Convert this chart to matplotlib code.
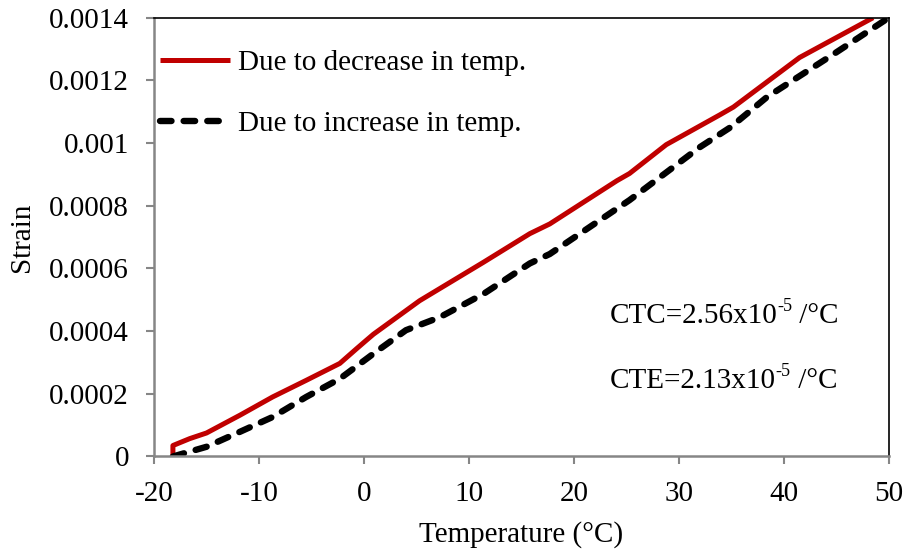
import numpy as np
import matplotlib
matplotlib.use("Agg")
import matplotlib.pyplot as plt

plt.rcParams['font.family'] = ['Liberation Serif', 'DejaVu Serif']
plt.rcParams['axes.unicode_minus'] = False

# red curve: strain due to decrease in temperature
temp_dec = [-18.2, -18.2, -16.6, -15.0, -11.8, -8.7, -5.5, -2.3, -0.7, 0.2, 0.9,
            5.3, 11.4, 15.8, 17.7, 24.1, 25.3, 28.8, 33.9, 35.2, 41.5, 48.5]
strain_dec = [0.0, 0.000035, 0.000057, 0.000075, 0.000132, 0.00019, 0.000243,
              0.000297, 0.000344, 0.00037, 0.00039, 0.000497, 0.00062, 0.000711,
              0.000742, 0.00088, 0.000903, 0.000995, 0.00109, 0.001115,
              0.001273, 0.0014]

# black dashed curve: strain due to increase in temperature
temp_inc = [-18.2, -15.0, -11.8, -8.7, -5.5, -2.3, 0.9, 4.0, 7.2, 11.4, 15.8,
            17.7, 25.3, 32.0, 34.9, 38.4, 44.7, 50.0]
strain_inc = [0.0, 0.000031, 0.000079, 0.000126, 0.00019, 0.000248, 0.000328,
              0.000403, 0.000444, 0.000519, 0.000616, 0.000646, 0.000818,
              0.000987, 0.00105, 0.001147, 0.001283, 0.0014]

x_ticks = [-20, -10, 0, 10, 20, 30, 40, 50]
y_ticks = [0, 0.0002, 0.0004, 0.0006, 0.0008, 0.001, 0.0012, 0.0014]
y_tick_labels = ['0', '0.0002', '0.0004', '0.0006', '0.0008', '0.001', '0.0012', '0.0014']

fs = 21
fig = plt.figure(figsize=(9.06, 5.54), dpi=100)
ax = fig.add_axes([0.170, 0.176, 0.811, 0.792])

ax.plot(temp_dec, strain_dec, color='#C00000', linewidth=3.6,
        solid_capstyle='butt', solid_joinstyle='round',
        label='Due to decrease in temp.')
ax.plot(temp_inc, strain_inc, color='black', linewidth=4.6, linestyle=(0, (1.8, 1.9)),
        dash_capstyle='round', label='Due to increase in temp.')

ax.set_xlim(-20, 50)
ax.set_ylim(0, 0.0014)
ax.set_xticks(x_ticks)
ax.set_xticklabels([str(t) for t in x_ticks])
ax.set_yticks(y_ticks)
ax.set_yticklabels(y_tick_labels)
ax.tick_params(axis='both', labelsize=fs, direction='out', length=6, width=1.5,
               color='#868686', pad=12)

for side in ['left', 'bottom']:
    ax.spines[side].set_color('#868686')
    ax.spines[side].set_linewidth(1.8)
for side in ['top', 'right']:
    ax.spines[side].set_color('black')
    ax.spines[side].set_linewidth(1.2)

ax.set_xlabel(u'Temperature (°C)', fontsize=fs, labelpad=10)
ax.set_ylabel(u'Strain', fontsize=fs, labelpad=10)

ax.legend(loc='upper left', bbox_to_anchor=(0.0, 0.94), frameon=False,
          fontsize=fs, handlelength=2.4, handletextpad=0.27, labelspacing=1.17,
          borderaxespad=0, borderpad=0.2)

# annotations with superscript exponent (hyphen, not minus sign)
for label, val, ypos in [('CTC', '2.56', 0.000406), ('CTE', '2.13', 0.000199)]:
    t1 = ax.text(23.4, ypos, label + '=' + val + 'x10', fontsize=fs, va='bottom', ha='left')
    sup = ax.annotate('-5', xy=(1, 0.55), xycoords=t1, fontsize=fs * 0.62,
                      va='bottom', ha='left')
    ax.annotate(u' /°C', xy=(1, 0), xycoords=(sup, t1), fontsize=fs,
                va='bottom', ha='left')

plt.savefig('out.png', dpi=100)
